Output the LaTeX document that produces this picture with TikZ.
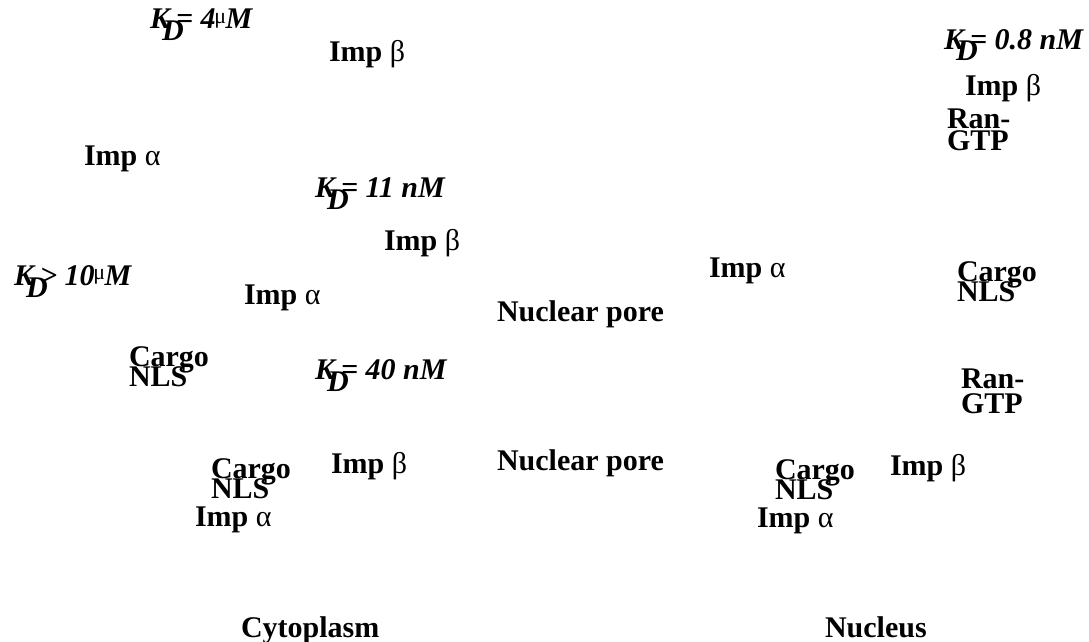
\documentclass[tikz,border=0pt]{standalone}
\usepackage{fontspec}
\setmainfont{Liberation Serif}
\newcommand\kdl[1]{\textit{K}\rlap{\kern-0.26em\raisebox{-0.4em}{D}}\kern0.2em#1}
\newcommand\umu{\kern-0.04em\raisebox{0.17em}{\fontsize{22}{22}\selectfont\mdseries\upshape μ}\kern-0.02em}
\tikzset{
  lbl/.style={anchor=base west, inner sep=0pt, outer sep=0pt, font=\fontsize{30}{30}\selectfont\bfseries},
  two/.style={lbl, align=left},
  kd/.style={anchor=base west, inner sep=0pt, outer sep=0pt, font=\fontsize{30}{30}\selectfont\bfseries\itshape},
}
\newcommand\imp[1]{Imp {\mdseries #1}}
\begin{document}
\begin{tikzpicture}[x=1pt,y=-1pt]
\useasboundingbox (0,0) rectangle (1089,642);
\node[kd] (kd1) at (150,29) {\kdl{=} 4\umu M};
\node[lbl] (ib1) at (329,62) {\imp{β}};
\node[kd] (kd2) at (944,49) {\kdl{=} 0.8 nM};
\node[lbl] (ib2) at (965,95) {\imp{β}};
\node[two] (ran1) at (947,150) {Ran-\\[-8pt]GTP};
\node[lbl] (ia1) at (84,165) {\imp{α}};
\node[kd] (kd3) at (315,197) {\kdl{=} 11 nM};
\node[lbl] (ib3) at (384,250) {\imp{β}};
\node[kd] (kd4) at (14,285) {\kdl{>} 10\umu M};
\node[lbl] (ia2) at (244,304) {\imp{α}};
\node[lbl] (ia3) at (709,277) {\imp{α}};
\node[two] (cg1) at (957,301) {Cargo\\[-10pt]NLS};
\node[lbl] (np1) at (497,321) {Nuclear pore};
\node[two] (cg2) at (129,386) {Cargo\\[-10pt]NLS};
\node[kd] (kd5) at (315,379) {\kdl{=} 40 nM};
\node[two] (ran2) at (961,413) {Ran-\\[-5pt]GTP};
\node[lbl] (ib4) at (331,473) {\imp{β}};
\node[lbl] (np2) at (497,470) {Nuclear pore};
\node[two] (cg3) at (211,498) {Cargo\\[-10pt]NLS};
\node[lbl] (ib5) at (890,475) {\imp{β}};
\node[two] (cg4) at (775,499) {Cargo\\[-10pt]NLS};
\node[lbl] (ia4) at (195,526) {\imp{α}};
\node[lbl] (ia5) at (757,527) {\imp{α}};
\node[lbl] (cyt) at (241,637) {Cytoplasm};
\node[lbl] (nuc) at (825,637) {Nucleus};
\end{tikzpicture}
\end{document}
